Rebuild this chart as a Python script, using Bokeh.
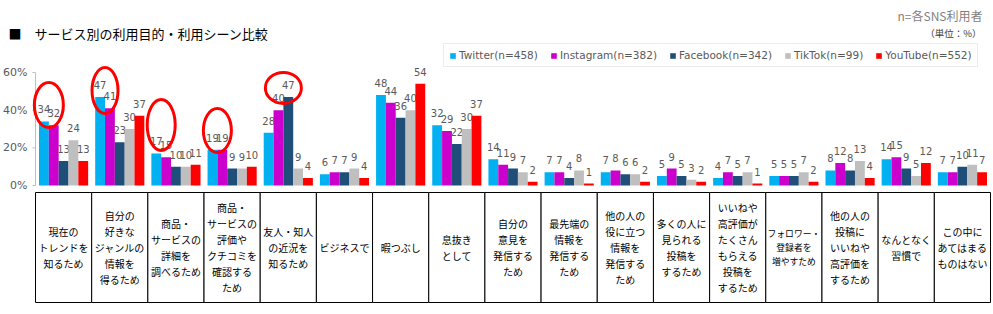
import numpy as np
from bokeh.plotting import figure
from bokeh.models import (Range1d, Legend, LegendItem, Label, ColumnDataSource)
from bokeh.core.properties import value
from bokeh.embed import file_html
from bokeh.resources import INLINE

# ---------------- data ----------------
categories = [
    "現在の\nトレンドを\n知るため",
    "自分の\n好きな\nジャンルの\n情報を\n得るため",
    "商品・\nサービスの\n詳細を\n調べるため",
    "商品・\nサービスの\n評価や\nクチコミを\n確認する\nため",
    "友人・知人\nの近況を\n知るため",
    "ビジネスで",
    "暇つぶし",
    "息抜き\nとして",
    "自分の\n意見を\n発信する\nため",
    "最先端の\n情報を\n発信する\nため",
    "他の人の\n役に立つ\n情報を\n発信する\nため",
    "多くの人に\n見られる\n投稿を\nするため",
    "いいねや\n高評価が\nたくさん\nもらえる\n投稿を\nするため",
    "フォロワー・\n登録者を\n増やすため",
    "他の人の\n投稿に\nいいねや\n高評価を\nするため",
    "なんとなく\n習慣で",
    "この中に\nあてはまる\nものはない",
]
series_names = ["Twitter(n=458)", "Instagram(n=382)", "Facebook(n=342)",
                "TikTok(n=99)", "YouTube(n=552)"]
twitter   = [34, 47, 17, 19, 28, 6, 48, 32, 14, 7, 7, 5, 4, 5, 8, 14, 7]
instagram = [32, 41, 15, 19, 40, 7, 44, 29, 11, 7, 8, 9, 7, 5, 12, 15, 7]
facebook  = [13, 23, 10, 9, 47, 7, 36, 22, 9, 4, 6, 5, 5, 5, 8, 9, 10]
tiktok    = [24, 30, 10, 9, 9, 9, 40, 30, 7, 8, 6, 3, 7, 7, 13, 5, 11]
youtube   = [13, 37, 11, 10, 4, 4, 54, 37, 2, 1, 2, 2, 1, 2, 4, 12, 7]
series_values = [twitter, instagram, facebook, tiktok, youtube]
y_ticks = [0, 20, 40, 60]

# highlighted pairs (category index, series a, series b)
highlights = [(0, 0, 1), (1, 0, 1), (2, 0, 1), (3, 0, 1), (4, 1, 2)]

# ---------------- style ----------------
colors = ["#00B0F0", "#CC00CC", "#1F4E79", "#BFBFBF", "#FF0000"]
BW = 0.175
PX = 113 / 60.0          # pixels per percent (vertical)
PXX = 955 / 17.0         # pixels per category (horizontal)
TABLE_TOP = -7 / PX
TABLE_BOTTOM = -117 / PX
TABLE_MID = (TABLE_TOP + TABLE_BOTTOM) / 2
hl_dy = [8.7, 3.4, 15.1, 10.2, 4.8]
hl_w = [29, 26, 28, 28, 36]
hl_h = [45, 46, 51, 44, 31]
GREY = "#595959"
AXIS_GREY = "#BFBFBF"

idx = np.arange(len(categories))

p = figure(width=993, height=314,
           x_range=Range1d(-35 / PXX, len(categories) + 3 / PXX),
           y_range=Range1d(-129 / PX, 185 / PX),
           output_backend="svg", toolbar_location=None,
           x_axis_location=None, y_axis_location=None,
           min_border_left=0, min_border_right=0,
           min_border_top=0, min_border_bottom=0,
           outline_line_color=None)
p.grid.grid_line_color = None

# value axis (line, ticks, labels) drawn on the plot's own scales
p.segment(x0=[0], y0=[min(y_ticks)], x1=[0], y1=[max(y_ticks)],
          line_color=AXIS_GREY, line_width=1)
p.segment(x0=[-3 / PXX] * len(y_ticks), y0=y_ticks, x1=[0] * len(y_ticks), y1=y_ticks,
          line_color=AXIS_GREY, line_width=1)
p.text(x=[0] * len(y_ticks), y=y_ticks, text=[f"{t}%" for t in y_ticks],
       x_offset=-8, text_align="right", text_baseline="middle",
       text_font=value("DejaVu Sans"), text_font_size="11px", text_color=GREY)

# table
p.quad(left=idx, right=idx + 1, top=TABLE_TOP, bottom=TABLE_BOTTOM,
       fill_color="white", line_color="black", line_width=1)
maxlen = [max(len(s) for s in c.split("\n")) for c in categories]
tsizes = [f"{min(10.0, 53.0 / m):.1f}px" for m in maxlen]
tsrc = ColumnDataSource(dict(x=idx + 0.5, y=[TABLE_MID] * len(idx),
                             text=categories, size=tsizes))
p.text(x="x", y="y", text="text", source=tsrc, text_font_size="size",
       text_align="center", text_baseline="middle",
       text_font=value("Noto Sans CJK JP"),
       text_line_height=1.07, text_color="black")

items = []
for k, (vals, color, name) in enumerate(zip(series_values, colors, series_names)):
    xs = idx + 0.5 + (k - 2) * BW
    src = ColumnDataSource(dict(x=xs, top=vals, lab=[str(v) for v in vals]))
    r = p.vbar(x="x", top="top", bottom=0, width=BW, source=src,
               fill_color=color, line_color=None)
    p.text(x="x", y="top", text="lab", source=src, y_offset=-12,
           text_align="center", text_baseline="middle",
           text_font=value("DejaVu Sans"), text_font_size="10px",
           text_color=GREY)
    items.append(LegendItem(label=name, renderers=[r]))

# highlight ellipses
ex, ey = [], []
for (ci, a, b), dy in zip(highlights, hl_dy):
    ex.append(ci + 0.5 + ((a + b) / 2 - 2) * BW)
    ey.append(max(series_values[a][ci], series_values[b][ci]) + dy)
p.ellipse(x=ex, y=ey, width=hl_w, height=hl_h,
          width_units="screen", height_units="screen",
          fill_color=None, line_color="#FF0000", line_width=3)

legend = Legend(items=items, orientation="horizontal", location=(443, 247),
                glyph_width=7, glyph_height=7, label_standoff=3, spacing=12,
                padding=5, margin=0, label_height=12,
                label_text_font="DejaVu Sans", label_text_font_size="10.5px",
                label_text_color=GREY, border_line_color="#D9D9D9",
                border_line_width=1, background_fill_color="white",
                background_fill_alpha=1)
p.add_layout(legend)

p.add_layout(Label(x=8, y=281, x_units="screen", y_units="screen",
                   text="■　サービス別の利用目的・利用シーン比較",
                   text_font="Noto Sans CJK JP", text_font_size="13px",
                   text_color="black", text_baseline="middle"))
p.add_layout(Label(x=982, y=299, x_units="screen", y_units="screen",
                   text="n=各SNS利用者", text_align="right",
                   text_font="Noto Sans CJK JP", text_font_size="12px",
                   text_color="#7F7F7F", text_baseline="middle"))
p.add_layout(Label(x=981, y=282, x_units="screen", y_units="screen",
                   text="（単位：%）", text_align="right",
                   text_font="Noto Sans CJK JP", text_font_size="9.5px",
                   text_color="#404040", text_baseline="middle"))

open("out.html", "w").write(file_html(p, INLINE))
